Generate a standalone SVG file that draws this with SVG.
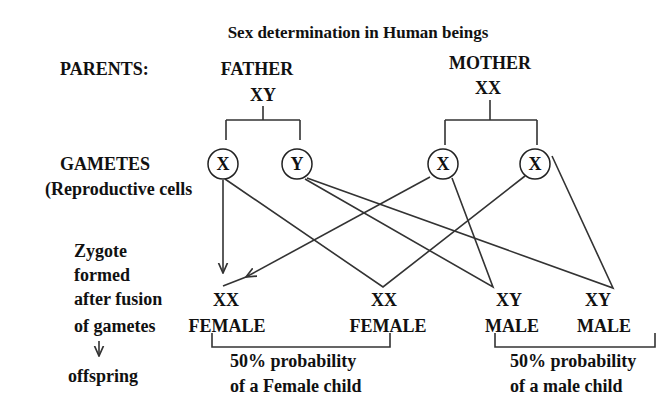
<svg xmlns="http://www.w3.org/2000/svg" width="671" height="410" viewBox="0 0 671 410">
<style>
text{font-family:'Liberation Serif','DejaVu Serif',serif;font-weight:bold;font-size:18px;fill:#111}
.c{text-anchor:middle}
.l{fill:none;stroke:#333;stroke-width:1.6}
circle{fill:#fff;stroke:#222;stroke-width:1.5}
</style>
<defs><marker id="a" viewBox="0 0 10 10" refX="9" refY="5" markerWidth="7" markerHeight="7" orient="auto"><path d="M0,1 L9,5 L0,9" fill="none" stroke="#333" stroke-width="1.5"/></marker></defs>
<rect width="671" height="410" fill="#fff"/>
<text x="358" y="38" class="c" style="font-size:17px">Sex determination in Human beings</text>
<g id="labels">
<text x="60" y="75">PARENTS:</text>
<text x="257" y="75" class="c">FATHER</text>
<text x="263" y="101" class="c">XY</text>
<text x="490" y="69" class="c">MOTHER</text>
<text x="488" y="94" class="c">XX</text>
<text x="60" y="170">GAMETES</text>
<text x="45" y="195">(Reproductive cells</text>
<text x="74" y="257">Zygote</text>
<text x="74" y="281">formed</text>
<text x="74" y="305">after fusion</text>
<text x="74" y="332">of gametes</text>
<line class="l" x1="99" y1="341" x2="99" y2="356" marker-end="url(#a)"/>
<text x="68" y="382">offspring</text>
</g>
<g id="connectors" class="l">
<path class="l" d="M226,120 V140 M300,120 V140 M226,120 H300 M263,120 V106"/>
<path class="l" d="M445,120 V145 M537,120 V145 M445,120 H537 M490,120 V100"/>
<line class="l" x1="223" y1="180" x2="223" y2="273" marker-end="url(#a)"/>
<polyline class="l" points="430,177 246,277" marker-end="url(#a)"/>
<polyline class="l" points="223,286 246,277"/>
<polyline class="l" points="225,179 383,287 525,176"/>
<polyline class="l" points="305,179 493,287 452,178"/>
<polyline class="l" points="307,178 613,288 552,156"/>
<path class="l" d="M212,333 V347 H390 V333 M495,333 V347 H655 V333"/>
</g>
<g id="g1"><circle cx="223" cy="164" r="15"/><text x="223" y="170" class="c">X</text></g>
<g id="g2"><circle cx="297" cy="164" r="15"/><text x="297" y="170" class="c">Y</text></g>
<g id="g3"><circle cx="443" cy="164" r="15"/><text x="443" y="170" class="c">X</text></g>
<g id="g4"><circle cx="535" cy="164" r="15"/><text x="535" y="170" class="c">X</text></g>
<g id="o1"><text x="226" y="306" class="c">XX</text><text x="227" y="332" class="c">FEMALE</text></g>
<g id="o2"><text x="384" y="306" class="c">XX</text><text x="388" y="332" class="c">FEMALE</text></g>
<g id="o3"><text x="509" y="306" class="c">XY</text><text x="512" y="332" class="c">MALE</text></g>
<g id="o4"><text x="598" y="306" class="c">XY</text><text x="604" y="332" class="c">MALE</text></g>
<g id="p1"><text x="230" y="367">50% probability</text><text x="230" y="392">of a Female child</text></g>
<g id="p2"><text x="510" y="367">50% probability</text><text x="510" y="392">of a male child</text></g>
</svg>
